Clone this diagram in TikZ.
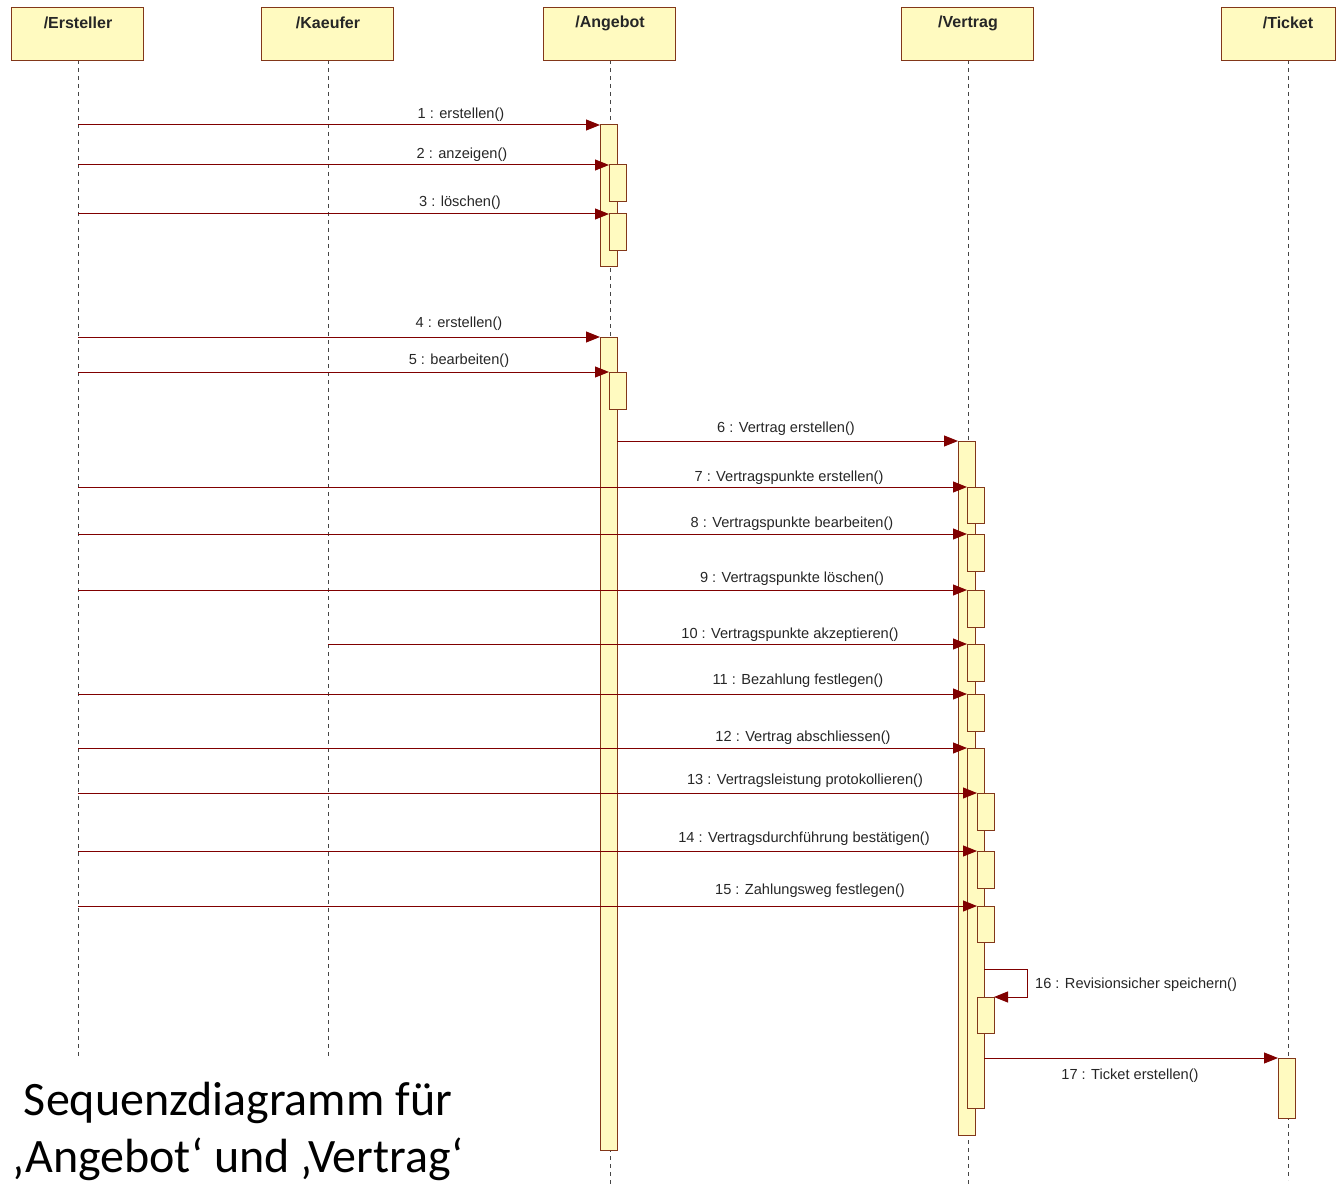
\documentclass[tikz,border=0pt]{standalone}
\usepackage{fontspec}
\setmainfont{Liberation Sans}
\newfontfamily\capfont{Carlito}
\usetikzlibrary{arrows.meta}
\definecolor{msgred}{RGB}{128,0,0}
\definecolor{boxbrd}{RGB}{130,55,25}
\definecolor{boxfill}{RGB}{255,250,192}
\definecolor{lifegray}{RGB}{70,70,70}
\tikzset{
  head/.style={draw=boxbrd,fill=boxfill,line width=1.3pt,minimum width=132pt,minimum height=53pt,
     anchor=north west,inner sep=0pt},
  htext/.style={font=\fontsize{16}{18}\selectfont\bfseries,text=black!85},
  actbar/.style={draw=boxbrd,fill=boxfill,line width=1pt,minimum width=17pt,anchor=north west,inner sep=0pt,outer sep=0pt},
  msg/.style={draw=msgred,line width=1pt,-{Triangle[length=14pt,width=11pt]}},
  life/.style={draw=lifegray,line width=0.9pt,dash pattern=on 4pt off 4pt},
  lbl/.style={font=\fontsize{14.6}{16}\selectfont,text=black!85,inner sep=0pt},
}
\begin{document}
\begin{tikzpicture}[x=1pt,y=-1pt]
\useasboundingbox (0,0) rectangle (1339,1185);
% lifelines
\coordinate (eL) at (78,60);  \coordinate (eE) at (78,1058);
\coordinate (kL) at (328,60); \coordinate (kE) at (328,1058);
\coordinate (aL) at (610,60); \coordinate (aE) at (610,1185);
\coordinate (vL) at (968,60); \coordinate (vE) at (968,1185);
\coordinate (tL) at (1288,60);\coordinate (tE) at (1288,1180);
\draw[life] (eL) -- (eE);
\draw[life] (kL) -- (kE);
\draw[life] (aL) -- (aE);
\draw[life] (vL) -- (vE);
\draw[life] (tL) -- (tE);
% headers
\node[head] (ers) at (11,7) {};
\node[head] (kae) at (261,7) {};
\node[head] (ang) at (543,7) {};
\node[head] (ver) at (901,7) {};
\node[head,minimum width=114pt] (tic) at (1221,7) {};
\node[htext] (ersT) at (78,23) {/Ersteller};
\node[htext] (kaeT) at (328,23) {/Kaeufer};
\node[htext] (angT) at (610,23) {/Angebot};
\node[htext] (verT) at (968,23) {/Vertrag};
\node[htext] (ticT) at (1288,23) {/Ticket};
% Angebot activations
\node[actbar,minimum height=142pt] (a1) at (600,125) {};
\node[actbar,minimum height=37pt] (a1a) at (609,165) {};
\node[actbar,minimum height=37pt] (a1b) at (609,214) {};
\node[actbar,minimum height=813pt] (a2) at (600,337) {};
\node[actbar,minimum height=37pt] (a2a) at (609,372) {};
% Vertrag activations
\node[actbar,minimum height=694pt] (v1) at (958,441) {};
\node[actbar,minimum height=36pt] (v7) at (967,487) {};
\node[actbar,minimum height=37pt] (v8) at (967,534) {};
\node[actbar,minimum height=37pt] (v9) at (967,590) {};
\node[actbar,minimum height=37pt] (v10) at (967,644) {};
\node[actbar,minimum height=37pt] (v11) at (967,694) {};
\node[actbar,minimum height=360pt] (v12) at (967,748) {};
\node[actbar,minimum height=37pt] (v13) at (977,793) {};
\node[actbar,minimum height=37pt] (v14) at (977,851) {};
\node[actbar,minimum height=36pt] (v15) at (977,906) {};
\node[actbar,minimum height=36pt] (v16) at (977,997) {};
% Ticket activation
\node[actbar,minimum height=60pt] (t1) at (1278,1058) {};
% messages
\draw[msg] (a1.north west -| eL) -- (a1.north west);
\draw[msg] (a1a.north west -| eL) -- (a1a.north west);
\draw[msg] (a1b.north west -| eL) -- (a1b.north west);
\draw[msg] (a2.north west -| eL) -- (a2.north west);
\draw[msg] (a2a.north west -| eL) -- (a2a.north west);
\draw[msg] (v1.north west -| a2.east) -- (v1.north west);
\draw[msg] (v7.north west -| eL) -- (v7.north west);
\draw[msg] (v8.north west -| eL) -- (v8.north west);
\draw[msg] (v9.north west -| eL) -- (v9.north west);
\draw[msg] (v10.north west -| kL) -- (v10.north west);
\draw[msg] (v11.north west -| eL) -- (v11.north west);
\draw[msg] (v12.north west -| eL) -- (v12.north west);
\draw[msg] (v13.north west -| eL) -- (v13.north west);
\draw[msg] (v14.north west -| eL) -- (v14.north west);
\draw[msg] (v15.north west -| eL) -- (v15.north west);
\coordinate (s16) at (984,969);
\draw[msg] (s16) -- ++(43,0) |- (v16.north east);
\draw[msg] (t1.north west -| v12.east) -- (t1.north west);
% labels
\node[lbl] (l1) at (461,115) {1 : erstellen()};
\node[lbl] (l2) at (462,155) {2 : anzeigen()};
\node[lbl] (l3) at (460,203) {3 : löschen()};
\node[lbl] (l4) at (459,324) {4 : erstellen()};
\node[lbl] (l5) at (459,361) {5 : bearbeiten()};
\node[lbl] (l6) at (786,429) {6 : Vertrag erstellen()};
\node[lbl] (l7) at (789,478) {7 : Vertragspunkte erstellen()};
\node[lbl] (l8) at (792,524) {8 : Vertragspunkte bearbeiten()};
\node[lbl] (l9) at (792,579) {9 : Vertragspunkte löschen()};
\node[lbl] (l10) at (790,635) {10 : Vertragspunkte akzeptieren()};
\node[lbl] (l11) at (798,681) {11 : Bezahlung festlegen()};
\node[lbl] (l12) at (803,738) {12 : Vertrag abschliessen()};
\node[lbl] (l13) at (805,781) {13 : Vertragsleistung protokollieren()};
\node[lbl] (l14) at (804,839) {14 : Vertragsdurchführung bestätigen()};
\node[lbl] (l15) at (810,891) {15 : Zahlungsweg festlegen()};
\node[lbl,anchor=west] (l16) at (1035,985) {16 : Revisionsicher speichern()};
\node[lbl] (l17) at (1130,1076) {17 : Ticket erstellen()};
% caption
\node[font=\capfont\fontsize{48}{57}\selectfont,align=center,anchor=base] (cap) at (238,1172)
  {Sequenzdiagramm für\\‚Angebot‘ und ‚Vertrag‘};
\end{tikzpicture}
\end{document}
